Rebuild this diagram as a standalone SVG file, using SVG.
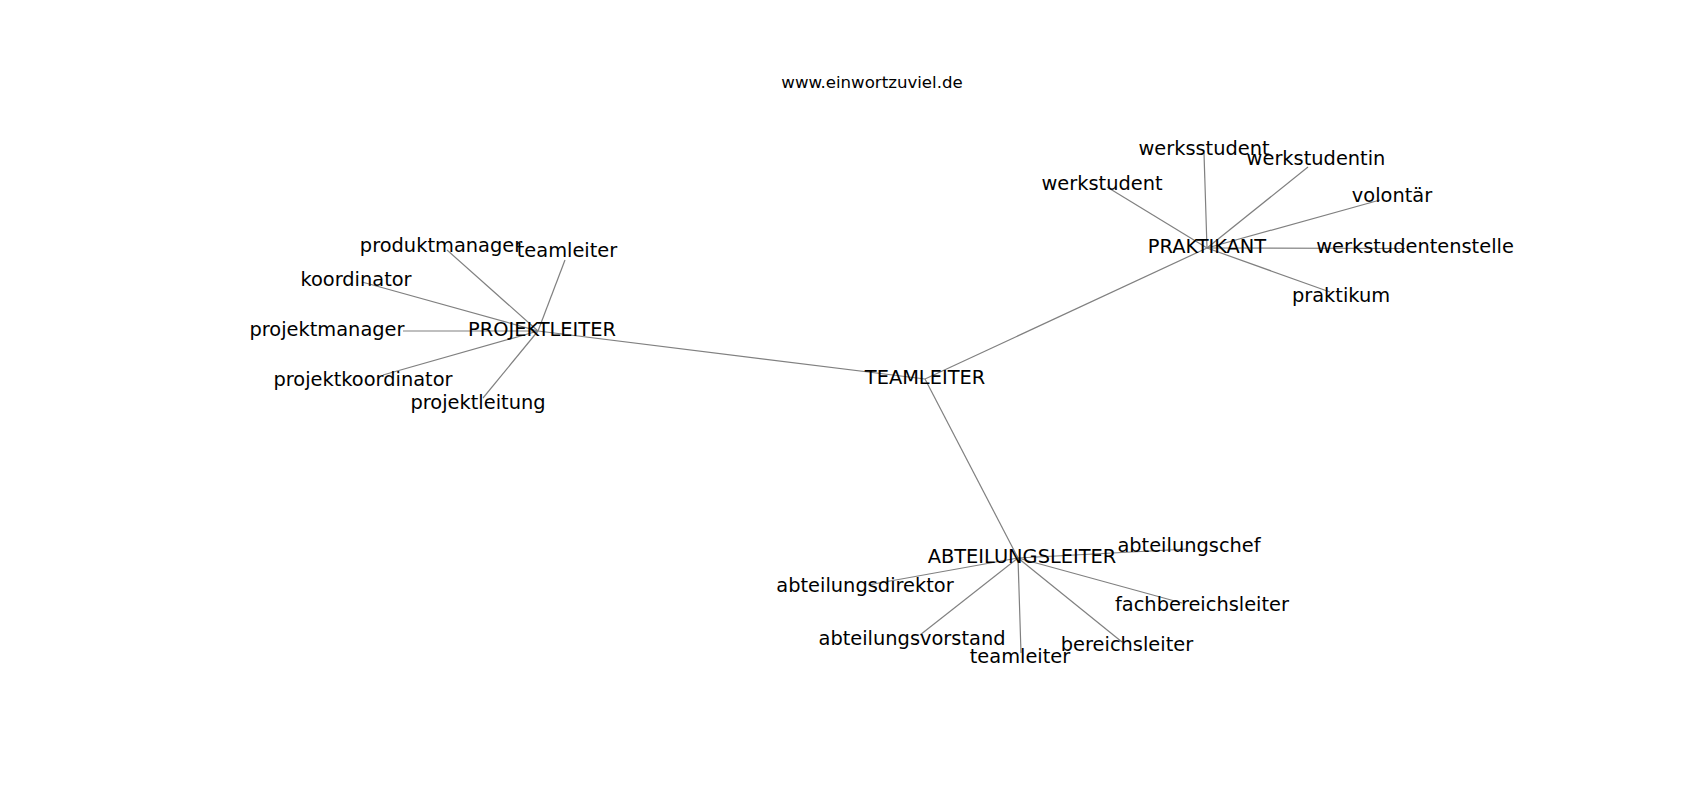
<svg xmlns="http://www.w3.org/2000/svg" width="1700" height="800" viewBox="0 0 1700 800">
<style>
.e{stroke:#808080;stroke-width:1.2;fill:none}
text{font-family:"DejaVu Sans","Liberation Sans",sans-serif;fill:#000;text-anchor:middle}
.n{font-size:19.4px}
.t{font-size:16.6px}
</style>
<rect width="1700" height="800" fill="#fff"/>
<text class="t" x="872" y="88">www.einwortzuviel.de</text>
<g id="edges">
<line class="e" x1="538" y1="331" x2="447" y2="250"/>
<line class="e" x1="538" y1="331" x2="565" y2="260"/>
<line class="e" x1="538" y1="331" x2="362" y2="282"/>
<line class="e" x1="538" y1="331" x2="403" y2="331"/>
<line class="e" x1="538" y1="331" x2="383" y2="375"/>
<line class="e" x1="538" y1="331" x2="483" y2="398"/>
<line class="e" x1="538" y1="331" x2="925" y2="379"/>
<line class="e" x1="925" y1="379" x2="1207" y2="248"/>
<line class="e" x1="925" y1="379" x2="1018" y2="558"/>
<line class="e" x1="1207" y1="248" x2="1204" y2="153"/>
<line class="e" x1="1207" y1="248" x2="1308" y2="167"/>
<line class="e" x1="1207" y1="248" x2="1107" y2="187"/>
<line class="e" x1="1207" y1="248" x2="1380" y2="200"/>
<line class="e" x1="1207" y1="248" x2="1405" y2="248.5"/>
<line class="e" x1="1207" y1="248" x2="1330" y2="292"/>
<line class="e" x1="1018" y1="558" x2="1188" y2="549"/>
<line class="e" x1="1018" y1="558" x2="868" y2="585"/>
<line class="e" x1="1018" y1="558" x2="1182" y2="603"/>
<line class="e" x1="1018" y1="558" x2="920" y2="635"/>
<line class="e" x1="1018" y1="558" x2="1021" y2="653"/>
<line class="e" x1="1018" y1="558" x2="1122" y2="642"/>
</g>
<g id="n-projektleiter"><text class="n" x="542" y="336">PROJEKTLEITER</text></g>
<g id="n-produktmanager"><text class="n" x="441" y="252">produktmanager</text></g>
<g id="n-teamleiter1"><text class="n" x="567" y="257">teamleiter</text></g>
<g id="n-koordinator"><text class="n" x="356" y="286">koordinator</text></g>
<g id="n-projektmanager"><text class="n" x="327" y="336">projektmanager</text></g>
<g id="n-projektkoordinator"><text class="n" x="363" y="386">projektkoordinator</text></g>
<g id="n-projektleitung"><text class="n" x="478" y="409">projektleitung</text></g>
<g id="n-teamleiter"><text class="n" x="925" y="384">TEAMLEITER</text></g>
<g id="n-praktikant"><text class="n" x="1207" y="253">PRAKTIKANT</text></g>
<g id="n-werksstudent"><text class="n" x="1204" y="155">werksstudent</text></g>
<g id="n-werkstudentin"><text class="n" x="1316" y="165">werkstudentin</text></g>
<g id="n-werkstudent"><text class="n" x="1102" y="190">werkstudent</text></g>
<g id="n-volontaer"><text class="n" x="1392" y="202">volontär</text></g>
<g id="n-werkstudentenstelle"><text class="n" x="1415" y="253">werkstudentenstelle</text></g>
<g id="n-praktikum"><text class="n" x="1341" y="302">praktikum</text></g>
<g id="n-abteilungsleiter"><text class="n" x="1022" y="563">ABTEILUNGSLEITER</text></g>
<g id="n-abteilungschef"><text class="n" x="1189" y="552">abteilungschef</text></g>
<g id="n-abteilungsdirektor"><text class="n" x="865" y="592">abteilungsdirektor</text></g>
<g id="n-fachbereichsleiter"><text class="n" x="1202" y="611">fachbereichsleiter</text></g>
<g id="n-abteilungsvorstand"><text class="n" x="912" y="645">abteilungsvorstand</text></g>
<g id="n-teamleiter2"><text class="n" x="1020" y="663">teamleiter</text></g>
<g id="n-bereichsleiter"><text class="n" x="1127" y="651">bereichsleiter</text></g>
</svg>
